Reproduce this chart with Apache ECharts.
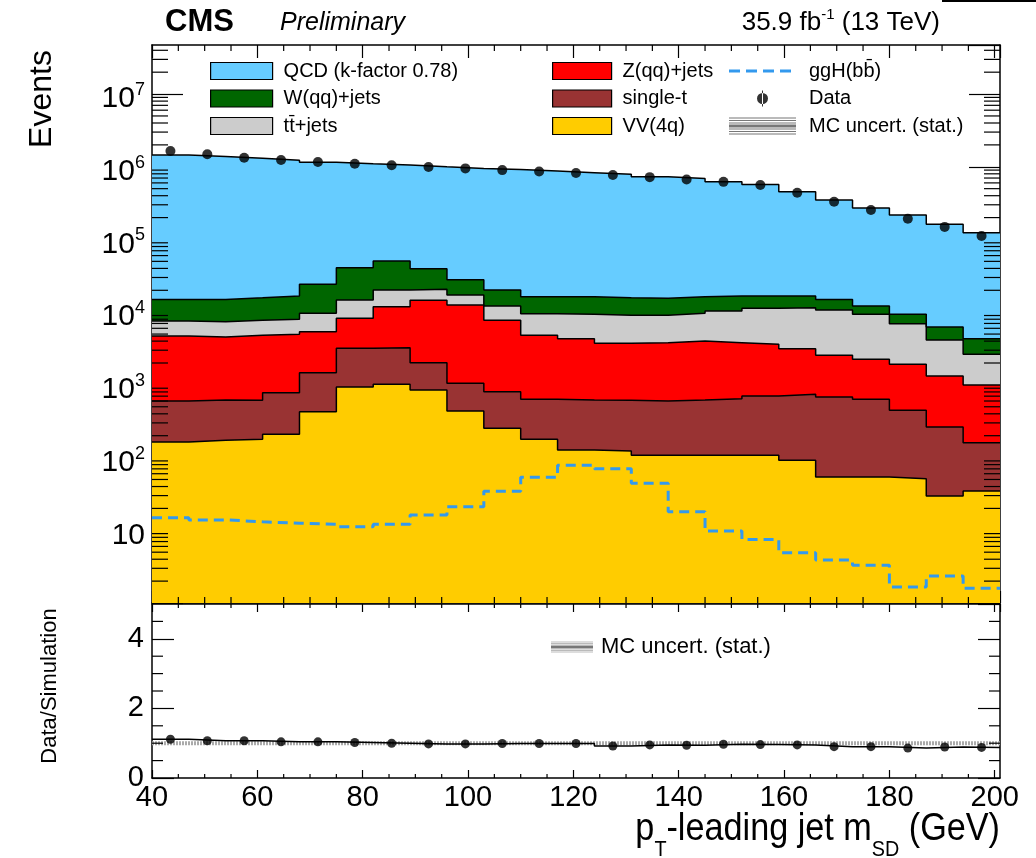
<!DOCTYPE html>
<html>
<head>
<meta charset="utf-8">
<title>pT-leading jet mSD</title>
<script src="https://cdn.jsdelivr.net/npm/echarts@6/dist/echarts.min.js"></script>
<style>
  html, body { margin: 0; padding: 0; background: #fff; }
  #chart { width: 1036px; height: 858px; }
</style>
</head>
<body>
<div id="chart"></div>
<script>
// bin edges (GeV)
const binEdges = [40, 47, 54, 61, 68, 75, 82, 89, 96, 103, 110, 117, 124, 131, 138, 145, 152, 159, 166, 173, 180, 187, 194, 201];

// stacked histogram tops (cumulative, as drawn)
const qcdTop = [1.45e6, 1.38e6, 1.31e6, 1.23e6, 1.15e6, 1.10e6, 1.06e6, 1.00e6, 9.5e5, 9.2e5, 8.75e5, 8.3e5, 7.9e5, 7.3e5, 6.9e5, 6.2e5, 5.7e5, 4.55e5, 3.5e5, 2.7e5, 2.17e5, 1.62e5, 1.24e5];
const wTop = [1.50e4, 1.50e4, 1.58e4, 1.67e4, 2.42e4, 4.1e4, 5.06e4, 3.97e4, 2.8e4, 2.02e4, 1.63e4, 1.63e4, 1.58e4, 1.55e4, 1.63e4, 1.67e4, 1.67e4, 1.67e4, 1.50e4, 1.22e4, 9.35e3, 6.26e3, 4.32e3];
const ttTop = [7.57e3, 7.4e3, 7.74e3, 7.98e3, 9.66e3, 1.47e4, 2.02e4, 2.07e4, 1.72e4, 1.22e4, 9.5e3, 9.35e3, 9.06e3, 9.1e3, 9.66e3, 1.04e4, 1.13e4, 1.15e4, 1.07e4, 9.35e3, 6.95e3, 4.15e3, 2.64e3];
const zTop = [4.71e3, 4.56e3, 4.81e3, 4.96e3, 5.4e3, 8.24e3, 1.19e4, 1.46e4, 1.26e4, 7.74e3, 4.81e3, 4.32e3, 3.73e3, 3.81e3, 4.02e3, 3.81e3, 3.62e3, 3.15e3, 2.55e3, 2.25e3, 1.92e3, 1.33e3, 1.0e3];
const singleTTop = [601, 620, 615, 781, 1470, 3190, 3250, 2020, 1050, 806, 634, 620, 615, 601, 620, 646, 704, 743, 682, 634, 447, 264, 160];
const vvTop = [164, 173, 179, 209, 428, 935, 1020, 851, 438, 253, 179, 127, 123, 108, 108, 108, 108, 92, 54, 54, 51, 29.6, 34.7];

// signal (not stacked)
const ggH = [14.9, 13.9, 13.1, 12.5, 12.1, 11.2, 12.1, 16.2, 21.1, 34.4, 53.6, 78.6, 70.4, 44.3, 18.0, 9.8, 7.5, 4.9, 3.9, 3.3, 1.66, 2.35, 1.59];

// data and ratio panel
const dataEvents = [1.65e6, 1.49e6, 1.33e6, 1.24e6, 1.16e6, 1.10e6, 1.05e6, 9.9e5, 9.5e5, 9.0e5, 8.6e5, 8.2e5, 7.7e5, 7.2e5, 6.7e5, 6.2e5, 5.6e5, 4.4e5, 3.3e5, 2.55e5, 1.93e5, 1.49e5, 1.12e5];
const ratio = [1.115, 1.07, 1.07, 1.04, 1.04, 1.02, 1.0, 0.98, 0.98, 0.99, 0.99, 0.99, 0.92, 0.95, 0.94, 0.97, 0.96, 0.95, 0.90, 0.90, 0.86, 0.89, 0.88];

// axis ticks
const xMin = 40, xMax = 201;
const yMax = 4.73e7;
const xMinorTicks = [45, 50, 55, 65, 70, 75, 85, 90, 95, 105, 110, 115, 125, 130, 135, 145, 150, 155, 165, 170, 175, 185, 190, 195];
const ratioMinorTicks = [0.5, 1, 1.5, 2.5, 3, 3.5, 4.5];
const logMinorTicks = [];
for (let e = 0; e < 8; e++) {
  for (let d = 2; d < 10; d++) {
    const v = d * Math.pow(10, e);
    if (v < yMax) logMinorTicks.push(v);
  }
}

const FONT = '"Liberation Sans", Arial, Helvetica, sans-serif';

// histogram as step line: one point per left edge + closing point
function toSteps(vals) {
  const pts = vals.map((v, i) => [binEdges[i], v]);
  pts.push([binEdges[binEdges.length - 1], vals[vals.length - 1]]);
  return pts;
}
function toCenters(vals) {
  return vals.map((v, i) => [(binEdges[i] + binEdges[i + 1]) / 2, v]);
}

function stackSeries(name, vals, fill) {
  return {
    name: name,
    type: 'line',
    xAxisIndex: 0, yAxisIndex: 0,
    step: 'end',
    symbol: 'none',
    data: toSteps(vals),
    itemStyle: { color: fill },
    lineStyle: { color: '#000', width: 1.5 },
    areaStyle: { color: fill, opacity: 1, origin: 'start' },
    emphasis: { disabled: true },
    silent: true
  };
}

// minor ticks drawn on both sides of a panel
function yMinorSeries(xi, yi, vals, len) {
  return {
    type: 'custom', xAxisIndex: xi, yAxisIndex: yi, silent: true, z: 10,
    data: vals.map(v => [xMin, v]),
    renderItem: function (params, api) {
      const v = api.value(1);
      const l = api.coord([xMin, v]);
      const r = api.coord([xMax, v]);
      return {
        type: 'group',
        children: [
          { type: 'line', shape: { x1: l[0], y1: l[1], x2: l[0] + len, y2: l[1] }, style: { stroke: '#000', lineWidth: 1.2 } },
          { type: 'line', shape: { x1: r[0] - len, y1: r[1], x2: r[0], y2: r[1] }, style: { stroke: '#000', lineWidth: 1.2 } }
        ]
      };
    }
  };
}
function xMinorSeries(xi, yi, yLo, yHi, len) {
  return {
    type: 'custom', xAxisIndex: xi, yAxisIndex: yi, silent: true, z: 10,
    data: xMinorTicks.map(v => [v, yLo]),
    renderItem: function (params, api) {
      const v = api.value(0);
      const b = api.coord([v, yLo]);
      const t = api.coord([v, yHi]);
      return {
        type: 'group',
        children: [
          { type: 'line', shape: { x1: b[0], y1: b[1], x2: b[0], y2: b[1] - len }, style: { stroke: '#000', lineWidth: 1.2 } },
          { type: 'line', shape: { x1: t[0], y1: t[1], x2: t[0], y2: t[1] + len }, style: { stroke: '#000', lineWidth: 1.2 } }
        ]
      };
    }
  };
}

function xAxisCfg(grid, pos, tickLen, labels) {
  return {
    type: 'value', gridIndex: grid, position: pos, min: xMin, max: xMax, interval: 20,
    axisLine: { show: true, onZero: false, lineStyle: { color: '#000', width: 1.5 } },
    axisTick: { show: true, inside: true, length: tickLen, lineStyle: { color: '#000', width: 1.2 } },
    splitLine: { show: false },
    axisLabel: labels ? {
      show: true, margin: 5, color: '#000', fontFamily: FONT, fontSize: 29, showMaxLabel: false
    } : { show: false }
  };
}

function logLabel(value) {
  const e = Math.round(Math.log10(value));
  if (Math.abs(value - Math.pow(10, e)) > 1e-6 * value) return '';
  if (e === 0) return '';
  if (e === 1) return '{b|10}';
  return '{b|10}{s|' + e + '}';
}

const legendText = { color: '#000', fontFamily: FONT, fontSize: 20, lineHeight: 17, padding: [0, 0, 0, 6] };
const hatchIcon = 'path://M0,0h67v1H0Z M0,2.5h67v1H0Z M0,5h67v1H0Z M0,7h67v3H0Z M0,11h67v1H0Z M0,13.5h67v1H0Z M0,16h67v1H0Z';
const dataIcon = 'path://M0,0M67,17M28,8.5a5.5,5.5 0 1,0 11,0a5.5,5.5 0 1,0 -11,0Z M33,0.5h1v16H33Z';
const dashIcon = 'path://M0,0M67,17M0,7h11v3H0Z M17,7h11v3H17Z M34,7h11v3H34Z M51,7h11v3H51Z';
function boxItem(name, fill) {
  return { name: name, icon: 'rect', itemStyle: { color: fill, borderColor: '#000', borderWidth: 1.2 } };
}

const colors = {
  qcd: '#66ccff', w: '#006600', tt: '#cccccc', z: '#ff0000', st: '#993333', vv: '#ffcc00', ggh: '#3399ee'
};

const chart = echarts.init(document.getElementById('chart'));
chart.setOption({
  animation: false,
  backgroundColor: '#fff',
  grid: [
    { left: 152, right: 36, top: 45, height: 558 },
    { left: 152, right: 36, top: 604, height: 174 }
  ],
  xAxis: [
    xAxisCfg(0, 'bottom', 12, false),
    xAxisCfg(0, 'top', 13, false),
    xAxisCfg(1, 'bottom', 8, true),
    xAxisCfg(1, 'top', 8, false)
  ],
  yAxis: [
    {
      type: 'log', logBase: 10, gridIndex: 0, position: 'left', min: 1, max: yMax, splitNumber: 8,
      axisLine: { show: true, lineStyle: { color: '#000', width: 1.5 } },
      axisTick: { show: true, inside: true, length: 31, lineStyle: { color: '#000', width: 1.2 } },
      splitLine: { show: false },
      axisLabel: {
        margin: 7, color: '#000', formatter: logLabel, showMaxLabel: false, padding: [10, 0, 0, 0],
        rich: {
          b: { fontFamily: FONT, fontSize: 30, lineHeight: 36, color: '#000' },
          s: { fontFamily: FONT, fontSize: 18, lineHeight: 18, verticalAlign: 'top', color: '#000' }
        }
      }
    },
    {
      type: 'log', logBase: 10, gridIndex: 0, position: 'right', min: 1, max: yMax, splitNumber: 8,
      axisLine: { show: true, lineStyle: { color: '#000', width: 1.5 } },
      axisTick: { show: true, inside: true, length: 31, lineStyle: { color: '#000', width: 1.2 } },
      splitLine: { show: false },
      axisLabel: { show: false }
    },
    {
      type: 'value', gridIndex: 1, position: 'left', min: 0, max: 5, interval: 2,
      axisLine: { show: true, lineStyle: { color: '#000', width: 1.5 } },
      axisTick: { show: true, inside: true, length: 22, lineStyle: { color: '#000', width: 1.2 } },
      splitLine: { show: false },
      axisLabel: { margin: 8, color: '#000', fontFamily: FONT, fontSize: 29, showMaxLabel: false }
    },
    {
      type: 'value', gridIndex: 1, position: 'right', min: 0, max: 5, interval: 2,
      axisLine: { show: true, lineStyle: { color: '#000', width: 1.5 } },
      axisTick: { show: true, inside: true, length: 22, lineStyle: { color: '#000', width: 1.2 } },
      splitLine: { show: false },
      axisLabel: { show: false }
    }
  ],
  legend: [
    {
      left: 210, top: 61, orient: 'vertical', itemWidth: 62, itemHeight: 17, itemGap: 7.5, padding: 0,
      selectedMode: false, textStyle: legendText,
      data: [boxItem('QCD (k-factor 0.78)', colors.qcd), boxItem('W(qq)+jets', colors.w), boxItem('tt\u0304+jets', colors.tt)]
    },
    {
      left: 552, top: 61, orient: 'vertical', itemWidth: 59, itemHeight: 17, itemGap: 7.5, padding: 0,
      selectedMode: false, textStyle: legendText,
      data: [boxItem('Z(qq)+jets', colors.z), boxItem('single-t', colors.st), boxItem('VV(4q)', colors.vv)]
    },
    {
      left: 729, top: 61, orient: 'vertical', itemWidth: 67, itemHeight: 17, itemGap: 7.5, padding: 0,
      selectedMode: false, textStyle: Object.assign({}, legendText, { padding: [0, 0, 0, 8] }),
      data: [
        { name: 'ggH(bb\u0304)', icon: dashIcon, itemStyle: { color: colors.ggh, borderWidth: 0 } },
        { name: 'Data', icon: dataIcon, itemStyle: { color: '#000', borderWidth: 0 } },
        { name: 'MC uncert. (stat.)', icon: hatchIcon, itemStyle: { color: '#777', borderWidth: 0 } }
      ]
    },
    {
      left: 551, top: 636, orient: 'vertical', itemWidth: 42, itemHeight: 16, padding: 0,
      selectedMode: false, textStyle: Object.assign({}, legendText, { fontSize: 22, lineHeight: 18, padding: [0, 0, 0, 3] }),
      data: [{ name: 'MC uncert. (stat.)', icon: hatchIcon, itemStyle: { color: '#777', borderWidth: 0 } }]
    }
  ],
  graphic: [
    { type: 'text', left: 165, top: 7, style: { text: 'CMS', font: 'bold 31px ' + FONT, fill: '#000' } },
    { type: 'text', left: 280, top: 11, style: { text: 'Preliminary', font: 'italic 25px ' + FONT, fill: '#000' } },
    {
      type: 'text', right: 96, top: 7,
      style: {
        text: '{a|35.9 fb}{s|-1}{a| (13 TeV)}', fill: '#000',
        rich: {
          a: { fontFamily: FONT, fontSize: 26, lineHeight: 32 },
          s: { fontFamily: FONT, fontSize: 15, lineHeight: 15, verticalAlign: 'top' }
        }
      }
    },
    { type: 'line', shape: { x1: 942, y1: 1, x2: 1036, y2: 1 }, style: { stroke: '#000', lineWidth: 2 } },
    {
      type: 'text', x: 42, y: 99, rotation: Math.PI / 2,
      style: { text: 'Events', font: '32px ' + FONT, fill: '#000', textAlign: 'center', textVerticalAlign: 'middle' }
    },
    {
      type: 'text', x: 50, y: 686, rotation: Math.PI / 2,
      style: { text: 'Data/Simulation', font: '22px ' + FONT, fill: '#000', textAlign: 'center', textVerticalAlign: 'middle' }
    },
    {
      // axis title, squeezed horizontally like the narrow ROOT font
      type: 'text', x: 1000, y: 830, scaleX: 0.9,
      style: {
        text: '{m|p}{t|T}{m|-leading jet m}{t|SD}{m| (GeV)}', fill: '#000',
        textAlign: 'right', textVerticalAlign: 'middle',
        rich: {
          m: { fontFamily: FONT, fontSize: 38, lineHeight: 61 },
          t: { fontFamily: FONT, fontSize: 22, verticalAlign: 'bottom' }
        }
      }
    }
  ],
  series: [
    stackSeries('QCD (k-factor 0.78)', qcdTop, colors.qcd),
    stackSeries('W(qq)+jets', wTop, colors.w),
    stackSeries('tt\u0304+jets', ttTop, colors.tt),
    stackSeries('Z(qq)+jets', zTop, colors.z),
    stackSeries('single-t', singleTTop, colors.st),
    stackSeries('VV(4q)', vvTop, colors.vv),
    {
      name: 'ggH(bb\u0304)', type: 'line', xAxisIndex: 0, yAxisIndex: 0, step: 'end', symbol: 'none',
      data: toSteps(ggH), itemStyle: { color: colors.ggh },
      lineStyle: { color: colors.ggh, width: 3, type: [10, 6] }, silent: true, z: 3
    },
    {
      name: 'Data', type: 'scatter', xAxisIndex: 0, yAxisIndex: 0, symbol: 'circle', symbolSize: 10,
      data: toCenters(dataEvents), itemStyle: { color: '#000' }, silent: true, z: 4
    },
    // ratio panel
    {
      name: 'MC uncert. (stat.)', type: 'line', xAxisIndex: 2, yAxisIndex: 2, symbol: 'none',
      data: [[xMin, 1], [xMax, 1]], itemStyle: { color: '#999' },
      lineStyle: { color: '#aaa', width: 4, type: [2, 1] }, silent: true
    },
    {
      name: 'Data/Simulation', type: 'line', xAxisIndex: 2, yAxisIndex: 2, step: 'end', symbol: 'none',
      data: toSteps(ratio), lineStyle: { color: '#000', width: 1.5 }, silent: true, z: 3
    },
    {
      name: 'ratio points', type: 'scatter', xAxisIndex: 2, yAxisIndex: 2, symbolSize: 9,
      data: toCenters(ratio), itemStyle: { color: '#000' }, silent: true, z: 4
    },
    yMinorSeries(0, 0, logMinorTicks, 16),
    xMinorSeries(0, 0, 1, yMax, 6),
    yMinorSeries(2, 2, ratioMinorTicks, 11),
    xMinorSeries(2, 2, 0, 5, 4)
  ]
});
</script>
</body>
</html>
